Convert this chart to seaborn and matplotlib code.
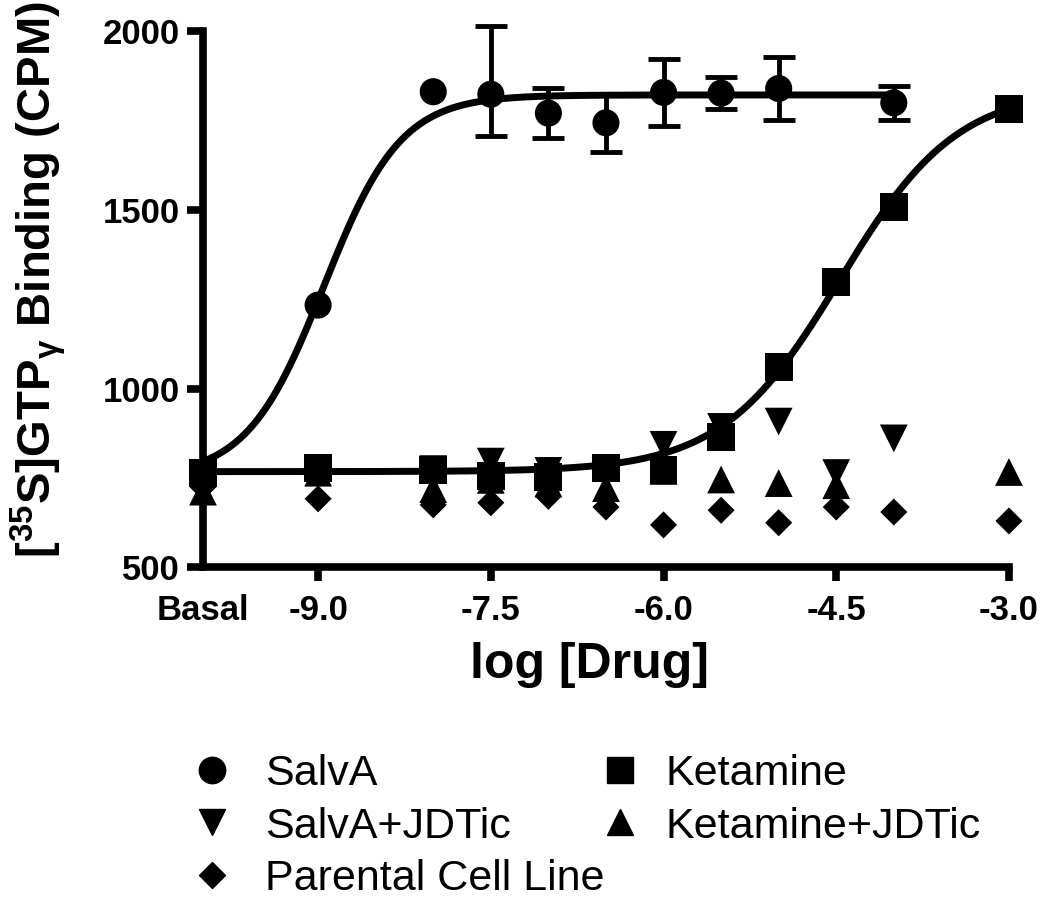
import numpy as np
import pandas as pd
import seaborn as sns
import matplotlib.pyplot as plt
from matplotlib.lines import Line2D

# log [Drug]; -10 is the basal (no drug) condition
salva_x = [-10, -9, -8, -7.5, -7, -6.5, -6, -5.5, -5, -4]
salva_y = [765, 1234, 1831, 1824, 1771, 1744, 1829, 1827, 1840, 1800]
salva_err_low = [0, 0, 0, 117, 70, 81, 93, 45, 88, 48]
salva_err_high = [0, 0, 0, 190, 70, 81, 93, 45, 88, 48]

ketamine_x = [-10, -9, -8, -7.5, -7, -6.5, -6, -5.5, -5, -4.5, -4, -3]
ketamine_y = [765, 778, 773, 756, 753, 778, 773, 865, 1061, 1299, 1508, 1783]

salva_jdtic_x = [-10, -9, -8, -7.5, -7, -6.5, -6, -5.5, -5, -4.5, -4]
salva_jdtic_y = [735, 770, 775, 796, 770, 770, 843, 893, 908, 764, 861]

ketamine_jdtic_x = [-10, -9, -8, -7.5, -7, -6.5, -6, -5.5, -5, -4.5, -3]
ketamine_jdtic_y = [712, 765, 719, 745, 735, 722, 770, 746, 736, 730, 767]

parental_x = [-10, -9, -8, -7.5, -7, -6.5, -6, -5.5, -5, -4.5, -4, -3]
parental_y = [725, 692, 675, 681, 699, 669, 619, 660, 625, 669, 655, 630]

# four-parameter logistic fits: bottom, top, logEC50, hill slope
salva_fit = (752, 1822, -8.95, 1.3)
ketamine_fit = (768, 1840, -4.47, 0.85)

xtick_pos = [-10, -9, -7.5, -6, -4.5, -3]
xtick_labels = ["Basal", "-9.0", "-7.5", "-6.0", "-4.5", "-3.0"]
ytick_pos = [500, 1000, 1500, 2000]

MARKERS = {"SalvA": "o", "Ketamine": "s", "SalvA+JDTic": "v",
           "Ketamine+JDTic": "^", "Parental Cell Line": "D"}
SIZES = {"SalvA": 380, "Ketamine": 400, "SalvA+JDTic": 400,
         "Ketamine+JDTic": 400, "Parental Cell Line": 190}


def logistic(x, bottom, top, logec50, hill):
    return bottom + (top - bottom) / (1 + 10 ** (hill * (logec50 - x)))


sns.set_theme(style="ticks")
plt.rcParams["font.family"] = ["Liberation Sans", "DejaVu Sans"]
plt.rcParams["mathtext.fontset"] = "custom"
plt.rcParams["mathtext.rm"] = "Liberation Sans:bold"
plt.rcParams["mathtext.it"] = "Liberation Sans:bold"
plt.rcParams["mathtext.bf"] = "Liberation Sans:bold"
for key in ["text.color", "axes.labelcolor", "xtick.color", "ytick.color", "axes.edgecolor"]:
    plt.rcParams[key] = "black"

# draw order: diamonds at the back, circles/squares on top
df = pd.concat([
    pd.DataFrame({"logdose": parental_x, "cpm": parental_y, "series": "Parental Cell Line"}),
    pd.DataFrame({"logdose": ketamine_jdtic_x, "cpm": ketamine_jdtic_y, "series": "Ketamine+JDTic"}),
    pd.DataFrame({"logdose": salva_jdtic_x, "cpm": salva_jdtic_y, "series": "SalvA+JDTic"}),
    pd.DataFrame({"logdose": ketamine_x, "cpm": ketamine_y, "series": "Ketamine"}),
    pd.DataFrame({"logdose": salva_x, "cpm": salva_y, "series": "SalvA"}),
], ignore_index=True)

fig = plt.figure(figsize=(10.5, 9.08), dpi=100)
ax = fig.add_axes([0.1933, 0.3751, 0.7676, 0.5904])

xs = np.linspace(-10, -4, 300)
sns.lineplot(x=xs, y=logistic(xs, *salva_fit), color="black", lw=5, ax=ax, zorder=2)
xk = np.linspace(-10, -3, 300)
sns.lineplot(x=xk, y=logistic(xk, *ketamine_fit), color="black", lw=5, ax=ax, zorder=2)

err = [(x, y, lo, hi) for x, y, lo, hi in zip(salva_x, salva_y, salva_err_low, salva_err_high) if hi > 0]
eb = ax.errorbar([e[0] for e in err], [e[1] for e in err],
                 yerr=[[e[2] for e in err], [e[3] for e in err]],
                 fmt="none", ecolor="black", elinewidth=3.5, capsize=11.5, capthick=3.5, zorder=3)
for art in eb.lines[1] + eb.lines[2]:
    art.set_clip_on(False)

sns.scatterplot(data=df, x="logdose", y="cpm", style="series", markers=MARKERS,
                size="series", sizes=SIZES, color="black", edgecolor="black",
                linewidth=0, legend=False, ax=ax, clip_on=False, zorder=4)

ax.set_xlim(-10, -3)
ax.set_ylim(500, 2000)
ax.set_xticks(xtick_pos)
ax.set_xticklabels(xtick_labels)
ax.set_yticks(ytick_pos)
ax.xaxis.get_major_ticks()[0].tick1line.set_visible(False)
sns.despine(ax=ax)
for side in ["left", "bottom"]:
    ax.spines[side].set_linewidth(5.5)
    ax.spines[side].set_capstyle("projecting")
ax.tick_params(axis="y", length=11.5, width=5.5, pad=5, labelsize=25)
ax.tick_params(axis="x", length=10, width=5.5, pad=9, labelsize=25)
for lab in ax.get_xticklabels() + ax.get_yticklabels():
    lab.set_fontweight("bold")

ax.set_xlabel("log [Drug]", fontsize=36, fontweight="bold")
ax.xaxis.set_label_coords(0.48, -0.182)
ax.xaxis.label.set_va("center")
ax.set_ylabel(r"[$^{35}$S]GTP$_{\gamma}$ Binding (CPM)", fontsize=34, fontweight="bold")
ax.yaxis.set_label_coords(-0.205, 0.536)
ax.yaxis.label.set_va("center")


def handle(name):
    ms = 13.5 if name == "Parental Cell Line" else 19
    return Line2D([], [], ls="none", marker=MARKERS[name], color="black", ms=ms)


col1 = ["SalvA", "SalvA+JDTic", "Parental Cell Line"]
col2 = ["Ketamine", "Ketamine+JDTic"]
leg_kw = dict(loc="upper left", frameon=False, fontsize=31, handlelength=1.0,
              labelspacing=0.3, borderaxespad=0, borderpad=0)
fig.legend([handle(n) for n in col1], col1, bbox_to_anchor=(0.1814, 0.170),
           handletextpad=0.73, **leg_kw)
fig.legend([handle(n) for n in col2], col2, bbox_to_anchor=(0.570, 0.170),
           handletextpad=0.55, **leg_kw)

fig.savefig("out.png", dpi=100)
